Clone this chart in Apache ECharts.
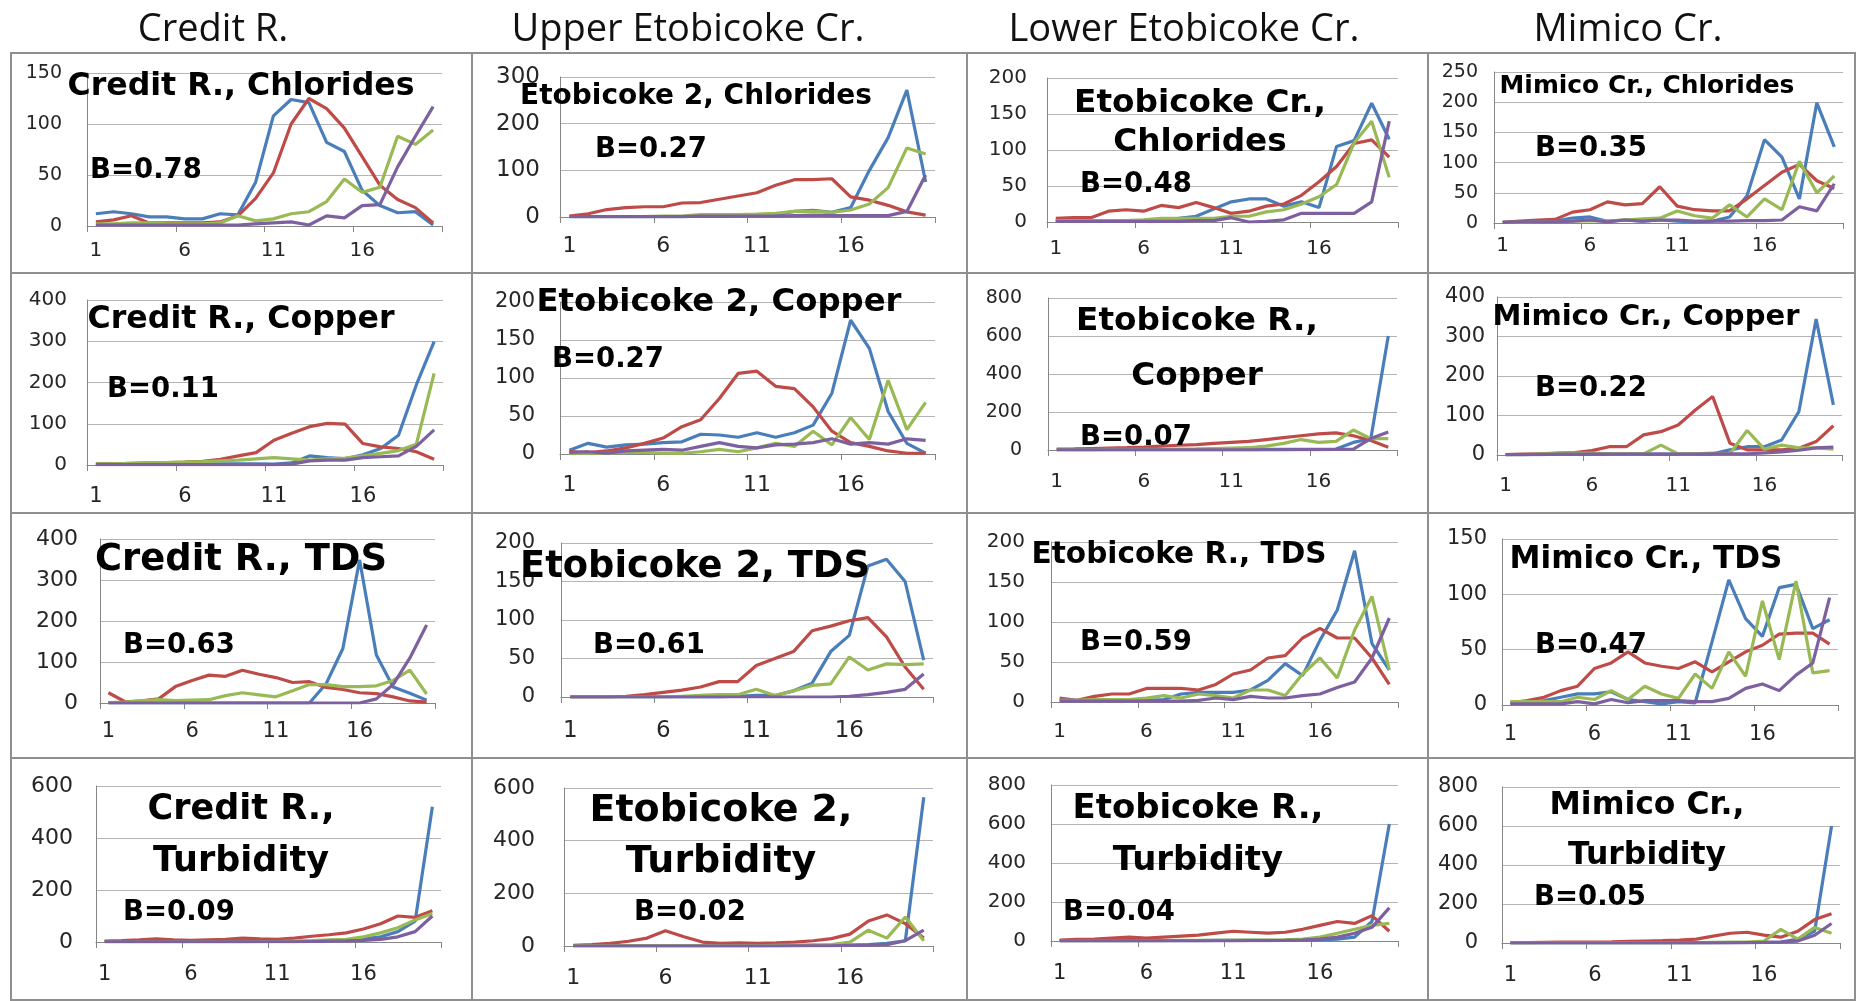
<!DOCTYPE html>
<html><head><meta charset="utf-8">
<script src="https://cdn.jsdelivr.net/npm/echarts@6/dist/echarts.min.js"></script>
<style>html,body{margin:0;padding:0;background:#fff;}#c{width:1856px;height:1001px;}</style>
</head><body><div id="c"></div>
<script>
// ---------------- DATA ----------------
const categories = ['1','2','3','4','5','6','7','8','9','10','11','12','13','14','15','16','17','18','19','20'];
const columnHeaders = ['Credit R.', 'Upper Etobicoke Cr.', 'Lower Etobicoke Cr.', 'Mimico Cr.'];
const panelTitles = [
  ['Credit R., Chlorides'], ['Etobicoke 2, Chlorides'], ['Etobicoke Cr.,', 'Chlorides'], ['Mimico Cr., Chlorides'],
  ['Credit R., Copper'], ['Etobicoke 2, Copper'], ['Etobicoke R.,', 'Copper'], ['Mimico Cr., Copper'],
  ['Credit R., TDS'], ['Etobicoke 2, TDS'], ['Etobicoke R., TDS'], ['Mimico Cr., TDS'],
  ['Credit R.,', 'Turbidity'], ['Etobicoke 2,', 'Turbidity'], ['Etobicoke R.,', 'Turbidity'], ['Mimico Cr.,', 'Turbidity']
];
const bValues = ['0.78','0.27','0.48','0.35','0.11','0.27','0.07','0.22','0.63','0.61','0.59','0.47','0.09','0.02','0.04','0.05'];
const yMax = [150,300,200,250, 400,200,800,400, 400,200,200,150, 600,600,800,800];
const yInterval = [50,100,50,50, 100,50,200,100, 100,50,50,50, 200,200,200,200];

// each panel: [blue, red, green, purple]
const creditChlorides = [
  [12,14,12,9,9,7,7,12,11,43,108,124,121,82,73,35,20,13,14,1],
  [4,6,10,3,3,3,3,4,10,27,52,100,125,115,96,68,40,26,18,3],
  [2,2,3,3,2,2,2,3,10,5,7,12,14,24,46,33,38,88,80,94],
  [1,1,1,1,1,1,1,1,1,2,3,4,1,10,8,20,21,58,88,117]
];
const etob2Chlorides = [
  [1,1,1,1,1,1,1,2,2,3,4,5,12,14,10,20,100,170,272,75],
  [2,7,16,20,22,22,30,31,38,45,52,68,80,80,82,43,36,25,11,4],
  [1,1,1,1,1,2,2,5,5,5,6,8,12,12,10,15,28,63,148,135],
  [1,1,1,1,1,1,1,2,2,2,2,2,3,4,3,3,3,3,12,90]
];
const lowerChlorides = [
  [2,2,2,2,2,2,3,5,8,18,28,32,32,22,28,20,105,113,165,115],
  [5,6,6,15,17,15,23,20,27,20,12,15,22,25,37,56,77,109,114,90],
  [2,2,2,2,2,3,5,5,5,5,8,8,14,17,25,35,52,110,140,62],
  [1,1,1,1,1,1,1,1,2,2,6,0,1,3,12,12,12,12,28,140]
];
const mimicoChlorides = [
  [1,2,3,3,8,10,3,5,3,5,3,2,3,10,45,138,109,40,199,126],
  [1,3,5,6,18,22,35,30,32,60,28,22,20,20,40,62,84,97,70,57],
  [1,1,2,2,3,4,3,5,7,8,20,12,8,30,10,40,22,102,50,78],
  [1,2,2,2,3,5,2,5,3,5,5,3,3,3,4,4,5,27,20,65]
];
const creditCopper = [
  [3,2,2,2,3,3,3,3,3,3,2,5,22,18,15,25,40,72,194,299],
  [2,3,4,5,6,7,9,14,22,30,60,77,93,101,99,52,44,40,32,14],
  [3,3,4,5,6,7,8,10,12,15,18,15,12,15,17,22,28,35,50,222],
  [1,1,1,1,1,1,1,1,1,1,1,2,10,12,12,18,20,22,45,85]
];
const etob2Copper = [
  [5,14,9,12,13,15,16,26,25,22,28,22,28,38,80,176,139,56,14,1],
  [3,2,4,8,14,21,36,45,73,106,109,89,86,62,30,15,10,4,1,1],
  [1,1,1,2,2,1,1,3,6,3,8,14,10,30,12,48,19,97,32,68],
  [2,3,1,4,5,6,5,10,15,10,8,12,13,15,20,13,15,13,20,18]
];
const lowerCopper = [
  [2,2,2,2,2,2,2,2,2,2,2,2,3,3,3,3,5,40,60,600],
  [5,6,8,10,12,15,20,25,28,35,40,45,55,65,75,85,90,75,50,15],
  [2,2,2,3,3,3,4,5,6,8,10,12,20,35,55,40,45,105,60,60],
  [1,1,1,1,1,1,1,1,1,1,1,1,1,1,2,2,3,5,60,95]
];
const mimicoCopper = [
  [1,1,2,2,2,2,2,2,2,2,2,2,3,13,21,21,38,110,344,127],
  [1,2,3,5,6,11,21,21,51,59,76,114,148,30,13,13,13,17,34,74],
  [1,1,2,4,5,5,3,3,3,25,3,3,5,3,62,15,25,18,18,15],
  [1,1,1,2,2,2,2,2,2,2,2,2,3,3,3,5,8,12,18,20]
];
const creditTDS = [
  [0,0,0,0,0,0,0,0,0,0,0,0,0,47,133,349,117,39,24,7],
  [25,3,5,10,40,55,68,65,80,70,62,50,52,38,33,25,23,15,5,2],
  [1,2,5,8,6,7,8,18,25,20,15,30,45,45,40,40,42,55,80,22],
  [0,0,0,0,0,0,0,0,0,0,0,0,0,0,0,0,10,45,110,190]
];
const etob2TDS = [
  [0,0,0,0,0,0,0,0,0,1,2,2,8,18,59,80,170,179,150,48],
  [0,0,0,1,3,6,9,13,20,20,41,50,59,86,92,99,103,78,39,10],
  [0,0,0,0,0,0,1,2,3,3,10,2,8,15,17,52,35,43,42,43],
  [0,0,0,0,0,0,0,0,0,0,0,0,0,0,0,1,3,6,10,30]
];
const lowerTDS = [
  [5,2,2,2,2,2,3,10,12,12,12,15,27,48,33,77,115,189,73,40],
  [3,2,7,10,10,17,17,17,15,22,35,40,55,58,80,92,80,80,55,22],
  [2,2,3,3,3,5,8,5,10,8,5,15,15,8,35,55,30,90,132,40],
  [1,1,1,1,1,1,1,1,2,5,3,7,5,5,8,10,18,25,55,105]
];
const mimicoTDS = [
  [2,2,4,7,10,10,12,5,3,1,3,2,57,113,78,62,106,109,69,77],
  [2,4,7,13,17,33,38,48,38,35,33,39,30,39,48,54,64,65,65,55],
  [3,3,3,3,7,5,13,5,17,10,6,28,15,48,26,94,41,112,29,31],
  [1,1,1,1,3,1,5,2,4,4,4,3,3,6,15,19,13,27,38,97]
];
const creditTurbidity = [
  [2,2,2,2,2,2,2,2,2,2,2,2,3,5,8,12,20,40,80,520],
  [3,5,8,12,8,6,8,10,15,12,10,15,22,28,35,50,70,100,95,120],
  [1,1,1,1,1,1,1,1,1,2,2,3,5,8,10,20,35,55,85,110],
  [1,1,1,1,1,1,1,1,1,1,1,1,2,3,4,6,10,20,40,100]
];
const etob2Turbidity = [
  [1,1,1,1,1,1,1,1,1,1,1,1,1,2,2,3,5,10,20,565],
  [2,5,10,18,30,58,35,15,10,12,10,12,15,20,28,45,95,118,85,30],
  [1,1,1,1,1,1,1,1,1,1,1,2,3,4,5,15,60,30,110,20],
  [0,0,0,0,0,0,0,0,0,0,0,0,1,1,1,2,3,5,20,60]
];
const lowerTurbidity = [
  [2,2,2,2,2,2,2,2,2,3,3,3,3,3,5,5,10,20,100,600],
  [5,8,10,15,20,15,20,25,30,40,50,45,40,45,60,80,100,90,130,50],
  [1,1,1,1,1,2,2,3,3,3,4,4,5,6,10,20,40,60,80,90],
  [1,1,1,1,1,1,1,1,1,1,1,2,2,3,5,10,20,40,70,170]
];
const mimicoTurbidity = [
  [1,1,1,1,1,1,1,1,1,1,1,1,1,2,2,3,5,20,60,600],
  [2,2,3,4,5,5,6,8,10,12,15,20,35,50,55,40,30,60,120,150],
  [1,1,1,1,1,1,1,1,1,1,2,2,3,4,5,10,70,20,80,50],
  [0,0,0,0,0,0,0,0,0,0,1,1,1,1,2,3,5,10,40,100]
];
const panelData = [
  creditChlorides, etob2Chlorides, lowerChlorides, mimicoChlorides,
  creditCopper, etob2Copper, lowerCopper, mimicoCopper,
  creditTDS, etob2TDS, lowerTDS, mimicoTDS,
  creditTurbidity, etob2Turbidity, lowerTurbidity, mimicoTurbidity
];

// ---------------- LAYOUT / STYLE ----------------
const seriesColors = ['#4a7ebb', '#be4b48', '#98b954', '#7d60a0'];
const gridBoxes = [
  [87,73,355,153],[560,77,375,140],[1047,78,351,144],[1494,72,349,151],
  [87,300,356,165],[560,302,375,152],[1048,298,349,152],[1497,297,345,158],
  [100,539,335,164],[561,543,372,154],[1051,542,347,160],[1502,539,336,166],
  [96,786,345,156],[564,788,369,158],[1051,785,347,156],[1502,787,338,156]
];
const xLabelCenterOffset = [26,30,28,24, 32,32,33,32, 29,35,31,30, 33,33,33,33];
const xLabelFont = [20,22,20,20, 21,22,20,20, 21,23,20,21, 21,22,21,21];
const yLabelFont = [19,23,20,19, 20,21,19,21, 22,21,20,21, 22,22,20,21];
const yLabelMargin = [25,20,20,16, 20,25,26,12, 22,26,26,15, 23,29,25,24];
// title: center x, center y, line offsets, target width of first line
const titleLayout = [
  [241,87,[0],347],[696,97,[0],352],[1200,103,[0,39],252],[1647,87,[0],295],
  [241,320,[0],307],[719,303,[0],365],[1197,322,[0,55],242],[1646,317,[0],307],
  [241,560,[0],292],[695,567,[0],350],[1179,555,[0],295],[1646,560,[0],273],
  [241,810,[0,52],187],[721,811,[0,51],263],[1198,809,[0,52],251],[1647,806,[0,50],195]
];
const bLayout = [
  [90,171],[595,150],[1080,185],[1535,149],
  [107,390],[552,360],[1080,438],[1535,389],
  [123,646],[593,646],[1080,643],[1535,646],
  [123,913],[634,913],[1063,913],[1534,898]
];
const colX = [11, 472, 967, 1428, 1855];
const rowY = [53, 273, 513, 758, 1000];
const headerX = [213, 688, 1184, 1628];

const ctx = document.createElement('canvas').getContext('2d');
function fitSize(text, width, family, weight) {
  ctx.font = weight + ' 100px "' + family + '"';
  return 100 * width / ctx.measureText(text).width;
}

const option = {
  animation: false,
  backgroundColor: '#ffffff',
  grid: [], xAxis: [], yAxis: [], series: [],
  graphic: { elements: [] }
};
const labelFont = 'DejaVu Sans';
const els = option.graphic.elements;

for (let r = 0; r < 4; r++) {
  for (let c = 0; c < 4; c++) {
    els.push({ type: 'rect', z: 0, silent: true,
      shape: { x: colX[c], y: rowY[r], width: colX[c+1] - colX[c], height: rowY[r+1] - rowY[r] },
      style: { fill: 'transparent', stroke: '#8f8f8f', lineWidth: 2 } });
  }
}
columnHeaders.forEach((h, i) => {
  els.push({ type: 'text', z: 20, silent: true, x: headerX[i], y: 30,
    style: { text: h, fontFamily: 'Open Sans', fontSize: 38, fill: '#111', align: 'center', verticalAlign: 'middle' } });
});

for (let p = 0; p < 16; p++) {
  const g = gridBoxes[p];
  option.grid.push({ left: g[0], top: g[1], width: g[2], height: g[3], outerBoundsMode: 'none' });
  option.xAxis.push({
    type: 'category', gridIndex: p, data: categories, boundaryGap: true,
    axisLine: { show: true, lineStyle: { color: '#868686', width: 1 } },
    axisTick: { show: true, interval: 4, length: 6, lineStyle: { color: '#868686' } },
    axisLabel: { interval: 4, fontSize: xLabelFont[p], color: '#262626', fontFamily: labelFont,
      margin: Math.round(xLabelCenterOffset[p] - xLabelFont[p] / 2 - 1) },
    splitLine: { show: false }
  });
  option.yAxis.push({
    type: 'value', gridIndex: p, min: 0, max: yMax[p], interval: yInterval[p],
    axisLine: { show: true, lineStyle: { color: '#868686', width: 1 } },
    axisTick: { show: false },
    axisLabel: { fontSize: yLabelFont[p], color: '#262626', fontFamily: labelFont, margin: yLabelMargin[p] },
    splitLine: { show: true, lineStyle: { color: '#b4b4b4', width: 1 } }
  });
  panelData[p].forEach((vals, s) => {
    option.series.push({
      type: 'line', xAxisIndex: p, yAxisIndex: p, data: vals,
      showSymbol: false, symbol: 'none', smooth: false, silent: true, z: 3 + s,
      lineStyle: { color: seriesColors[s], width: 3.2 }, itemStyle: { color: seriesColors[s] }
    });
  });
  const tl = titleLayout[p];
  const lines = panelTitles[p];
  const fs = fitSize(lines[0], tl[3], 'DejaVu Sans', 'bold');
  lines.forEach((ln, k) => {
    els.push({ type: 'text', z: 20, silent: true, x: tl[0], y: tl[1] + tl[2][k],
      style: { text: ln, fontFamily: 'DejaVu Sans', fontWeight: 'bold', fontSize: fs, fill: '#000',
        align: 'center', verticalAlign: 'middle' } });
  });
  els.push({ type: 'text', z: 20, silent: true, x: bLayout[p][0], y: bLayout[p][1],
    style: { text: 'B=' + bValues[p], fontFamily: 'DejaVu Sans', fontWeight: 'bold', fontSize: 27.5, fill: '#000',
      align: 'left', verticalAlign: 'middle' } });
}

const chart = echarts.init(document.getElementById('c'), null, { renderer: 'canvas' });
chart.setOption(option);
</script>
</body></html>
